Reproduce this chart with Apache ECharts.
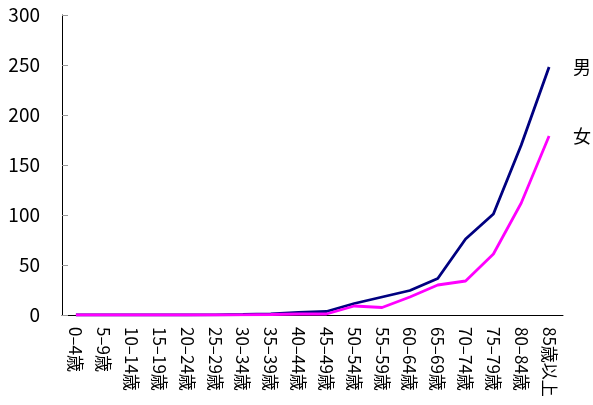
<!DOCTYPE html>
<html><head><meta charset="utf-8">
<script src="https://cdn.jsdelivr.net/npm/echarts@6/dist/echarts.min.js"></script>
<style>html,body{margin:0;padding:0;background:#fff}#c{width:593px;height:405px}</style>
</head><body><div id="c"></div>
<script>
const categories = ["0–4歳","5–9歳","10–14歳","15–19歳","20–24歳","25–29歳","30–34歳","35–39歳","40–44歳","45–49歳","50–54歳","55–59歳","60–64歳","65–69歳","70–74歳","75–79歳","80–84歳","85歳以上"];
const male = [0,0,0,0,0,0.2,0.5,1,2.5,3.5,11.5,18,24.5,36.5,76,101,170,248];
const female = [0,0,0,0,0,0,0.2,0.5,1,1,9,7.5,18,30,34,61,112,179];
const yTicks = [0,50,100,150,200,250,300];
const seriesNames = ["男","女"];

const chart = echarts.init(document.getElementById('c'));
const font = '"Noto Sans CJK JP", sans-serif';
function mk(name, data, color){
  return {name, type:'line', data, symbol:'none', smooth:false,
    lineStyle:{color, width:2.8}, itemStyle:{color},
    endLabel:{show:true, formatter:'{a}', distance:24, color:'#000', fontSize:18, fontFamily:font}};
}
chart.setOption({
  animation:false,
  grid:{left:62,right:30,top:15,bottom:90},
  xAxis:{type:'category', data:categories, boundaryGap:true,
    axisLine:{lineStyle:{color:'#000',width:1}},
    axisTick:{inside:true, length:6, lineStyle:{color:'#999'}},
    axisLabel:{rotate:-90, interval:0, margin:12, color:'#000', fontSize:17, fontFamily:font}},
  yAxis:{type:'value', min:yTicks[0], max:yTicks[yTicks.length-1], interval:50,
    splitLine:{show:false},
    axisLine:{show:true, lineStyle:{color:'#000',width:1}},
    axisTick:{show:true, inside:true, length:6, lineStyle:{color:'#999'}},
    axisLabel:{margin:22, color:'#000', fontSize:19, fontFamily:font}},
  series:[mk(seriesNames[0], male, '#000080'), mk(seriesNames[1], female, '#ff00ff')]
});
</script></body></html>
